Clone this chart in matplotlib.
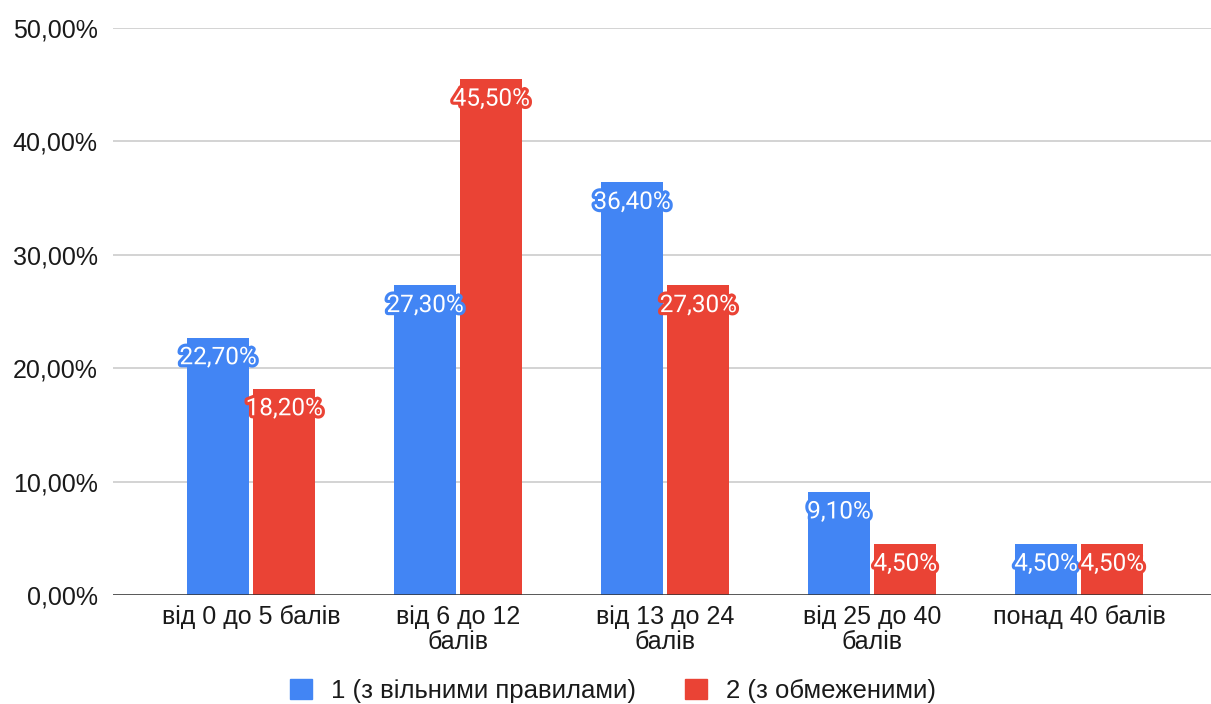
import matplotlib
matplotlib.use("Agg")
import matplotlib.pyplot as plt
import matplotlib.patheffects as pe
from matplotlib.patches import Patch
import numpy as np

plt.rcParams['font.family'] = ['Liberation Sans', 'DejaVu Sans']

categories = ["від 0 до 5 балів", "від 6 до 12\nбалів", "від 13 до 24\nбалів",
              "від 25 до 40\nбалів", "понад 40 балів"]
series_names = ["1 (з вільними правилами)", "2 (з обмеженими)"]
free_rules = [22.7, 27.3, 36.4, 9.1, 4.5]
restricted = [18.2, 45.5, 27.3, 4.5, 4.5]
y_ticks = [0, 10, 20, 30, 40, 50]

BLUE = "#4285F4"
RED = "#EA4335"
TEXT = "#1a1a1a"

W, H = 1211, 704
fig = plt.figure(figsize=(W / 100, H / 100), dpi=100)
ax = fig.add_axes([113 / W, (H - 595) / H, (1213 - 113) / W, (595 - 28) / H])

x = np.arange(len(categories))
bw = 0.30
off = 0.16

def fmt(v):
    return f"{v:.2f}".replace(".", ",") + "%"

for vals, color, dx in ((free_rules, BLUE, -off), (restricted, RED, off)):
    bars = ax.bar(x + dx, vals, width=bw, color=color, zorder=3)
    for b, v in zip(bars, vals):
        ax.annotate(fmt(v), (b.get_x() + b.get_width() / 2, v),
                    xytext=(0, -14.5), textcoords="offset points",
                    ha="center", va="center", color="white", fontsize=17.5,
                    family=["Roboto", "DejaVu Sans"], zorder=5,
                    path_effects=[pe.withStroke(linewidth=4.5, foreground=color)])

ax.set_xlim(-0.667, 4.647)
ax.set_ylim(0, 50)
ax.set_yticks(y_ticks)
ax.set_yticklabels([fmt(t) for t in y_ticks])
ax.set_xticks(x)
ax.set_xticklabels(categories, linespacing=1.08)

ax.grid(axis="y", color="#cccccc", linewidth=1.2, zorder=0)
ax.axhline(0, color="#333333", linewidth=1.8, zorder=4)
for s in ax.spines.values():
    s.set_visible(False)
ax.tick_params(axis="y", length=0, pad=11, labelsize=18, labelcolor=TEXT)
ax.tick_params(axis="x", length=0, pad=7, labelsize=18, labelcolor=TEXT)

handles = [Patch(color=BLUE), Patch(color=RED)]
fig.legend(handles, series_names, loc="center", bbox_to_anchor=(613 / W, 1 - 691 / H),
           ncol=2, frameon=False, fontsize=18.5, handlelength=0.85, handleheight=0.85,
           handletextpad=0.75, columnspacing=1.9, labelcolor=TEXT)

fig.savefig("out.png", dpi=100, facecolor="white")
